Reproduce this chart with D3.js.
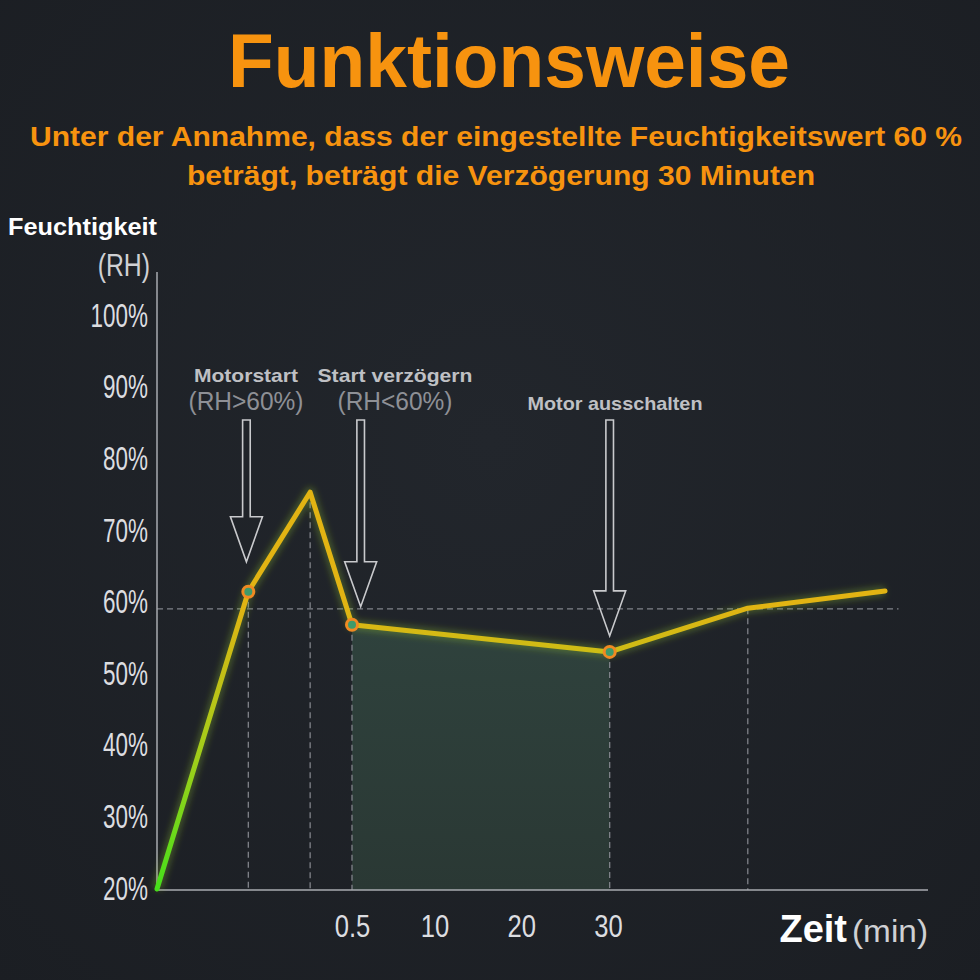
<!DOCTYPE html>
<html>
<head>
<meta charset="utf-8">
<script src="https://cdn.jsdelivr.net/npm/d3@7"></script>
<style>
html,body{margin:0;padding:0;background:#1f2228;}
svg{display:block;}
</style>
</head>
<body>
<script>
// ---- data ----
const titleText = "Funktionsweise";
const subtitleLines = ["Unter der Annahme, dass der eingestellte Feuchtigkeitswert 60 %", "beträgt, beträgt die Verzögerung 30 Minuten"];
const yTicks = [20, 30, 40, 50, 60, 70, 80, 90, 100];
const xTicks = [0.5, 10, 20, 30];
const xTickLabels = ["0.5", "10", "20", "30"];
// schematic time (min) and humidity (%RH) of the curve
const times = [-20, -10.4, -3.9, 0.5, 30.2, 46.6, 62.9];
const humidity = [20, 61.5, 75.4, 56.9, 53.1, 59.2, 61.6];
const markerIdx = [1, 3, 4];
const dropIdx = [1, 2, 3, 4, 5];
const threshold = 59.1;
const shadeFrom = 3, shadeTo = 4;
const annotations = [
  {idx: 1, title: "Motorstart", sub: "(RH>60%)", tx: -10.6},
  {idx: 3, title: "Start verzögern", sub: "(RH<60%)", tx: 1.5},
  {idx: 4, title: "Motor ausschalten", sub: "", tx: 30.2}
];

const W = 980, H = 980;
const SANS = "Liberation Sans, Arial, Helvetica, sans-serif";
const svg = d3.select("body").append("svg").attr("width", W).attr("height", H);
const defs = svg.append("defs");

function condense(sel, f){
  sel.each(function(){
    const w = this.getComputedTextLength();
    d3.select(this).attr("textLength", w*f).attr("lengthAdjust","spacingAndGlyphs");
  });
}

// background
const bg = defs.append("radialGradient").attr("id","bg").attr("cx","50%").attr("cy","45%").attr("r","75%");
bg.append("stop").attr("offset","0%").attr("stop-color","#22262c");
bg.append("stop").attr("offset","100%").attr("stop-color","#1b1e23");
svg.append("rect").attr("width",W).attr("height",H).attr("fill","url(#bg)");

// scales
const x = d3.scaleLinear().domain([-20, 0.5, 30, 68]).range([157, 352, 608, 928]);
const y = d3.scaleLinear().domain([20, 100]).range([889, 316]);
const axisY = 890;

const pts = times.map((t,i)=>({t, h: humidity[i]}));

// titles
svg.append("text").attr("x",509).attr("y",87).attr("text-anchor","middle")
  .attr("font-family",SANS).attr("font-weight","bold")
  .attr("font-size",76).attr("fill","#f7930f").attr("textLength",562).attr("lengthAdjust","spacingAndGlyphs")
  .text(titleText);
svg.selectAll("text.sub").data(subtitleLines).join("text").attr("class","sub")
  .attr("x",(d,i)=> i===0 ? 496 : 501).attr("y",(d,i)=>146+i*39).attr("text-anchor","middle")
  .attr("font-family",SANS).attr("font-weight","bold")
  .attr("font-size",28).attr("fill","#f7930f")
  .attr("textLength",(d,i)=> i===0 ? 932 : 628).attr("lengthAdjust","spacingAndGlyphs")
  .text(d=>d);

// shaded area
const shadePts = pts.slice(shadeFrom, shadeTo+1);
const area = d3.area().x(d=>x(d.t)).y0(axisY).y1(d=>y(d.h));
const sg = defs.append("linearGradient").attr("id","shade").attr("x1",0).attr("x2",0).attr("y1",0).attr("y2",1);
sg.append("stop").attr("offset","0%").attr("stop-color","#2f423d");
sg.append("stop").attr("offset","100%").attr("stop-color","#2a3834");
svg.append("path").datum(shadePts).attr("d",area).attr("fill","url(#shade)");

// dashed guides
const dashCol = "#80838a";
svg.append("line").attr("x1",x(-20)).attr("x2",x(64.5)).attr("y1",y(threshold)).attr("y2",y(threshold))
  .attr("stroke",dashCol).attr("stroke-width",1.3).attr("stroke-dasharray","6,4");
svg.selectAll("line.drop").data(dropIdx.map(i=>pts[i])).join("line").attr("class","drop")
  .attr("x1",d=>x(d.t)).attr("x2",d=>x(d.t)).attr("y1",d=>y(d.h)).attr("y2",axisY)
  .attr("stroke",dashCol).attr("stroke-width",1.3).attr("stroke-dasharray","6,4");

// axes
const axG = svg.append("g");
axG.append("line").attr("x1",157).attr("x2",157).attr("y1",272).attr("y2",axisY).attr("stroke","#a9abb0").attr("stroke-width",1.5);
axG.append("line").attr("x1",157).attr("x2",x(68)).attr("y1",axisY).attr("y2",axisY).attr("stroke","#a9abb0").attr("stroke-width",1.5);

const yAxis = d3.axisLeft(y).tickValues(yTicks).tickSize(0).tickPadding(9).tickFormat(d=>d+"%");
const yg = svg.append("g").attr("transform","translate(157,0)").call(yAxis);
yg.select(".domain").remove();
yg.selectAll("text").attr("font-family",SANS)
  .attr("font-size",34).attr("fill","#dcdde0").attr("dy","0.3em");
condense(yg.selectAll("text"), 0.66);

const xAxis = d3.axisBottom(x).tickValues(xTicks).tickSize(0).tickPadding(24).tickFormat((d,i)=>xTickLabels[i]);
const xg = svg.append("g").attr("transform",`translate(0,${axisY})`).call(xAxis);
xg.select(".domain").remove();
xg.selectAll("text").attr("font-family",SANS)
  .attr("font-size",32).attr("fill","#dcdde0");
condense(xg.selectAll("text"), 0.8);

// axis titles
svg.append("text").attr("x",8).attr("y",235).attr("font-family",SANS)
  .attr("font-weight","bold").attr("font-size",23).attr("fill","#ffffff")
  .attr("textLength",149).attr("lengthAdjust","spacingAndGlyphs").text("Feuchtigkeit");
const rh = svg.append("text").attr("x",150).attr("y",276).attr("text-anchor","end").attr("font-family",SANS)
  .attr("font-size",31).attr("fill","#cfd0d3").text("(RH)");
condense(rh, 0.8);
svg.append("text").attr("x",847).attr("y",942).attr("text-anchor","end")
  .attr("font-family",SANS).attr("font-weight","bold")
  .attr("font-size",38).attr("fill","#ffffff").text("Zeit");
svg.append("text").attr("x",928).attr("y",942).attr("text-anchor","end")
  .attr("font-family",SANS).attr("font-size",31).attr("fill","#cfd0d3")
  .attr("textLength",76).attr("lengthAdjust","spacingAndGlyphs").text("(min)");

// line with glow and gradient
const lg = defs.append("linearGradient").attr("id","lineGrad").attr("gradientUnits","userSpaceOnUse")
  .attr("x1",0).attr("x2",0).attr("y1",axisY).attr("y2",y(60));
lg.append("stop").attr("offset","0%").attr("stop-color","#45e01a");
lg.append("stop").attr("offset","45%").attr("stop-color","#9fcf1a");
lg.append("stop").attr("offset","100%").attr("stop-color","#e2b413");
const glow = defs.append("filter").attr("id","glow").attr("x","-20%").attr("y","-20%").attr("width","140%").attr("height","140%");
glow.append("feGaussianBlur").attr("stdDeviation",3);
const line = d3.line().x(d=>x(d.t)).y(d=>y(d.h));
svg.append("path").datum(pts).attr("d",line).attr("fill","none").attr("stroke","#9ccc30")
  .attr("stroke-width",10).attr("stroke-opacity",0.3).attr("filter","url(#glow)").attr("stroke-linejoin","round");
svg.append("path").datum(pts).attr("d",line).attr("fill","none").attr("stroke","url(#lineGrad)")
  .attr("stroke-width",5).attr("stroke-linejoin","round").attr("stroke-linecap","round");

// markers
svg.selectAll("circle.mk").data(markerIdx.map(i=>pts[i])).join("circle").attr("class","mk")
  .attr("cx",d=>x(d.t)).attr("cy",d=>y(d.h)).attr("r",5.5)
  .attr("fill","#3f9a6a").attr("stroke","#f08a22").attr("stroke-width",3);

// annotation arrows
const arrowCol = "#c9cacd";
annotations.forEach(a=>{
  const cx = x(a.tx);
  const p = pts[a.idx];
  const tip = y(p.h) - (a.idx===4 ? 16 : 30) + (a.idx===3 ? 12 : 0);
  const top = 420, headH = 45, sw = 3.8, hw = 16;
  const hy = tip - headH;
  const path = `M${cx-sw},${top} L${cx+sw},${top} L${cx+sw},${hy} L${cx+hw},${hy} L${cx},${tip} L${cx-hw},${hy} L${cx-sw},${hy} Z`;
  svg.append("path").attr("d",path).attr("fill","none").attr("stroke",arrowCol).attr("stroke-width",1.6).attr("stroke-linejoin","miter");
});
// annotation labels
const labX = [246, 395, 615];
const titleW = [104, 155, 175];
annotations.forEach((a,i)=>{
  const hasSub = a.sub !== "";
  svg.append("text").attr("x",labX[i]).attr("y",hasSub ? 382 : 410).attr("text-anchor","middle")
    .attr("font-family",SANS).attr("font-weight","bold")
    .attr("font-size",19).attr("fill","#bfc0c4")
    .attr("textLength",titleW[i]).attr("lengthAdjust","spacingAndGlyphs").text(a.title);
  if(hasSub){
    svg.append("text").attr("x",labX[i]).attr("y",410).attr("text-anchor","middle")
      .attr("font-family",SANS)
      .attr("font-size",26).attr("fill","#8e9096")
      .attr("textLength",115).attr("lengthAdjust","spacingAndGlyphs").text(a.sub);
  }
});
</script>
</body>
</html>
